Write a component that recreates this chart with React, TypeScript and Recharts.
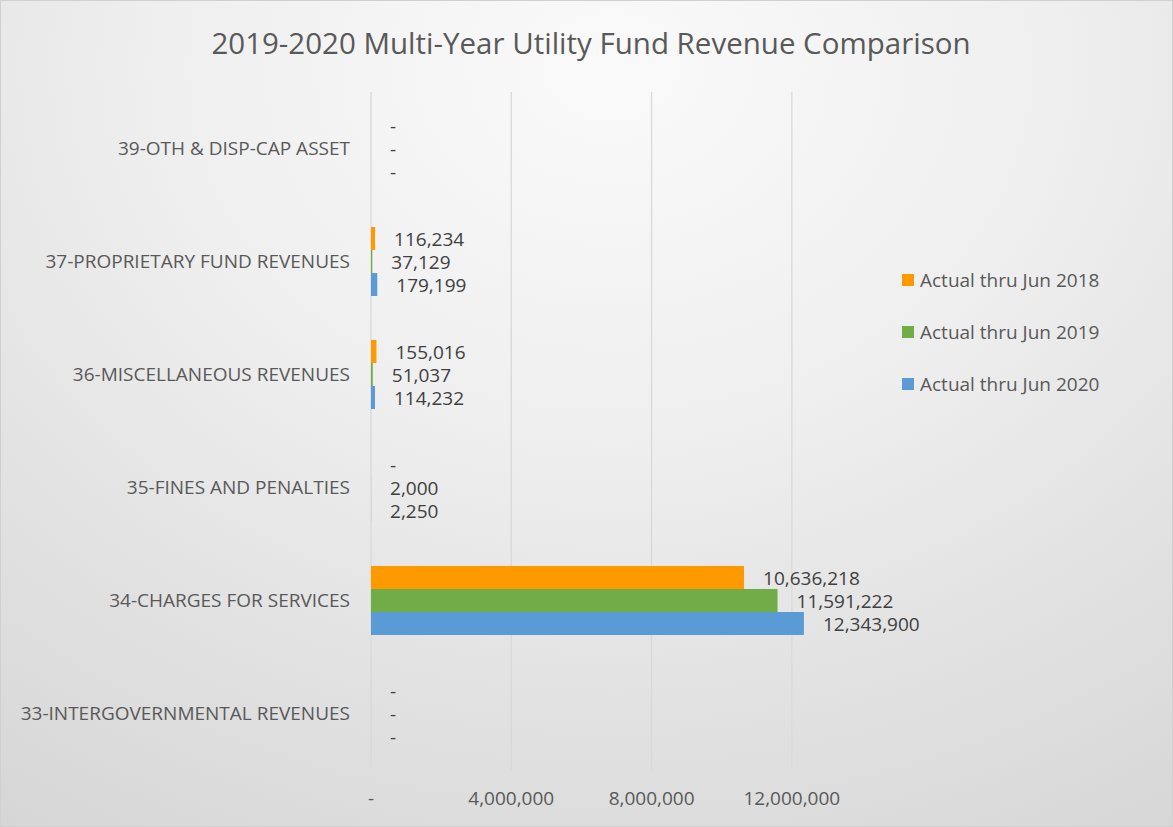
import { BarChart, Bar, XAxis, YAxis, CartesianGrid, LabelList } from 'recharts';

const categories = [
  '39-OTH & DISP-CAP ASSET',
  '37-PROPRIETARY FUND REVENUES',
  '36-MISCELLANEOUS REVENUES',
  '35-FINES AND PENALTIES',
  '34-CHARGES FOR SERVICES',
  '33-INTERGOVERNMENTAL REVENUES',
];

const actual2018 = [0, 116234, 155016, 0, 10636218, 0];
const actual2019 = [0, 37129, 51037, 2000, 11591222, 0];
const actual2020 = [0, 179199, 114232, 2250, 12343900, 0];

const xTicks = [0, 4000000, 8000000, 12000000];
const xMax = 14000000;

const series = [
  { key: 'y2018', name: 'Actual thru Jun 2018', color: '#FF9900' },
  { key: 'y2019', name: 'Actual thru Jun 2019', color: '#70AD47' },
  { key: 'y2020', name: 'Actual thru Jun 2020', color: '#5B9BD5' },
];

const data = categories.map((name, i) => ({
  name,
  y2018: actual2018[i],
  y2019: actual2019[i],
  y2020: actual2020[i],
}));

const FONT = '"Open Sans", "Noto Sans", sans-serif';
const TEXT = '#595959';

function fmt(v: number): string {
  if (!v) return '-';
  return v.toLocaleString('en-US');
}

function ValueLabel(props: any) {
  const { x, y, width, height, value } = props;
  return (
    <text
      x={x + (width || 0) + 19}
      y={y + height / 2}
      fill="#404040"
      fontSize={19}
      fontFamily={FONT}
      textAnchor="start"
      dominantBaseline="central"
    >
      {fmt(value)}
    </text>
  );
}

// gridlines only at the labelled ticks (not at the domain end)
function gridX({ xAxis, offset }: any): number[] {
  if (xAxis && typeof xAxis.scale === 'function') {
    return xTicks.map((t) => xAxis.scale(t));
  }
  return xTicks.map((t) => offset.left + (t / xMax) * offset.width);
}

export default function App() {
  return (
    <div
      style={{
        position: 'absolute',
        left: 0,
        top: 0,
        width: 1171,
        height: 825,
        border: '1px solid #d0d0d0',
        background: 'radial-gradient(ellipse 95% 110% at 52% 8%, #fafafa 0%, #efefef 40%, #e2e2e2 70%, #d6d6d6 100%)',
      }}
    >
      <div
        style={{
          position: 'absolute',
          top: 21,
          left: 0,
          width: 1180,
          textAlign: 'center',
          fontFamily: FONT,
          fontSize: 29.5,
          color: TEXT,
        }}
      >
        2019-2020 Multi-Year Utility Fund Revenue Comparison
      </div>
      {/* legend */}
      <div
        style={{
          position: 'absolute',
          left: 901,
          top: 253,
          fontFamily: FONT,
          fontSize: 19,
          color: TEXT,
        }}
      >
        {series.map((s) => (
          <div key={s.key} style={{ display: 'flex', alignItems: 'center', height: 52 }}>
            <span style={{ width: 12, height: 12, background: s.color, marginRight: 6 }} />
            <span>{s.name}</span>
          </div>
        ))}
      </div>
      <BarChart
        width={1171}
        height={825}
        data={data}
        layout="vertical"
        margin={{ top: 91, right: 310, bottom: 0, left: 0 }}
        barCategoryGap={22}
        barGap={0}
        style={{ position: 'absolute', left: 0, top: 0 }}
      >
        <CartesianGrid
          horizontal={false}
          stroke="#d9d9d9"
          strokeWidth={1.3}
          verticalCoordinatesGenerator={gridX}
        />
        <XAxis
          type="number"
          domain={[0, xMax]}
          ticks={xTicks}
          tickFormatter={(v: number) => fmt(v)}
          axisLine={false}
          tickLine={false}
          tickSize={0}
          tickMargin={22}
          height={56}
          tick={{ fontSize: 19, fill: TEXT, fontFamily: FONT }}
          interval={0}
        />
        <YAxis
          type="category"
          dataKey="name"
          width={370}
          axisLine={false}
          tickLine={false}
          tickSize={0}
          tickMargin={21}
          tick={{ fontSize: 19, fill: TEXT, fontFamily: FONT }}
          interval={0}
        />
        {series.map((s) => (
          <Bar
            key={s.key}
            dataKey={s.key}
            name={s.name}
            fill={s.color}
            minPointSize={(v: number) => (v === 0 ? 0.01 : 0)}
            isAnimationActive={false}
          >
            <LabelList dataKey={s.key} content={<ValueLabel />} />
          </Bar>
        ))}
      </BarChart>
    </div>
  );
}
